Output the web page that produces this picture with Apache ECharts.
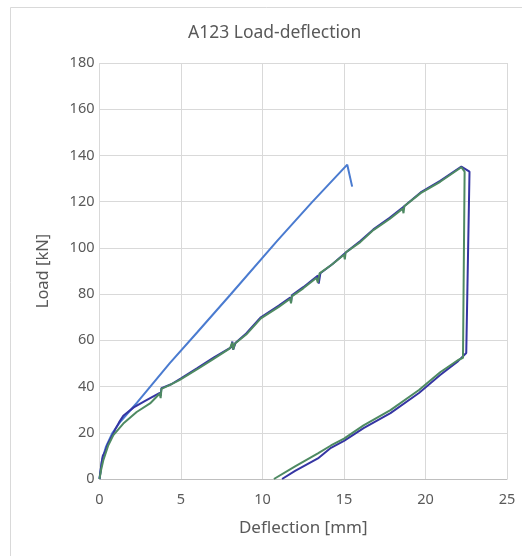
<!DOCTYPE html>
<html>
<head>
<meta charset="utf-8">
<script src="https://cdn.jsdelivr.net/npm/echarts@6/dist/echarts.min.js"></script>
<style>
  html, body { margin: 0; padding: 0; background: #fff; }
  #chart { width: 522px; height: 556px; }
</style>
</head>
<body>
<div id="chart"></div>
<script>
// deflection [mm], load [kN]
var xTicks = [0, 5, 10, 15, 20, 25];
var yTicks = [0, 20, 40, 60, 80, 100, 120, 140, 160, 180];

var lightBlue = [
    [0, 0], [0.15, 8], [0.4, 14], [0.8, 20], [1.3, 25], [1.8, 29], [2.3, 33],
    [4.3, 50], [6, 63.5], [8, 79.5], [10.9, 103], [13, 119.5], [15.2, 136], [15.5, 126.5]
];

var darkBlue = [
    [0, 0], [0.13, 7], [0.2, 10], [0.34, 11.8], [0.5, 15], [0.8, 19], [1, 22], [1.2, 24.5],
    [1.46, 27.4], [2.1, 31], [2.8, 33.8], [3.7, 37.3], [3.75, 36], [3.8, 39.3], [4.4, 41],
    [5, 43.6], [6, 48], [7, 52.5], [8.07, 57], [8.15, 59.5], [8.2, 56], [8.35, 59], [9, 63],
    [9.9, 70], [11, 75], [11.7, 78.5], [11.75, 76.5], [11.8, 79.5], [12.5, 83], [13.4, 88],
    [13.45, 84.5], [13.55, 89], [14.3, 93], [15.2, 98.5], [16, 103], [16.8, 108], [17.8, 113],
    [18.6, 117.5], [19.7, 124], [20.9, 129], [22.2, 135.2], [22.7, 133], [22.5, 54.5],
    [22, 51], [20.9, 45], [19.6, 37.2], [17.85, 28.5], [16.2, 22], [15, 16.5], [14.2, 13.5],
    [13.4, 8.9], [12, 3.5], [11.2, 0]
];

var green = [
    [0, 0], [0.1, 4], [0.23, 8], [0.54, 14.6], [0.85, 19], [1.46, 24], [2.28, 29], [3.1, 32.7],
    [3.7, 37], [3.75, 35], [3.8, 39], [4.3, 40.6], [4.9, 42.8], [6, 47.5], [7, 52], [8, 56.5],
    [8.15, 59], [8.2, 56], [8.3, 58.5], [9, 62.5], [9.9, 69.5], [11, 74.5], [11.7, 78],
    [11.75, 76], [11.8, 79], [12.5, 82.5], [13.3, 87], [13.4, 85], [13.5, 89], [14.2, 92.5],
    [15, 97], [15.05, 95], [15.1, 98], [16, 102.5], [16.8, 107.7], [17.8, 112.5], [18.6, 117],
    [18.65, 115], [18.7, 118], [19.7, 123.7], [20.9, 128.6], [22.2, 134.9], [22.4, 133],
    [22.3, 52.4], [22, 51.5], [20.9, 46.2], [19.6, 38.5], [17.85, 29.8], [16.2, 23.2],
    [15, 17.5], [14.2, 14.5], [13.4, 11.1], [12, 5.5], [10.7, 0]
];

var chart = echarts.init(document.getElementById('chart'));
var font = 'Noto Sans';
var textColor = '#595959';

function lineSeries(name, data, color) {
    return {
        name: name,
        type: 'line',
        data: data,
        showSymbol: false,
        symbol: 'none',
        animation: false,
        lineStyle: { color: color, width: 2 }
    };
}

var option = {
    backgroundColor: '#fff',
    title: {
        text: 'A123 Load-deflection',
        left: 183,
        top: 19,
        textStyle: { fontFamily: font, fontSize: 17.5, fontWeight: 'normal', color: textColor }
    },
    graphic: [{
        type: 'rect',
        shape: { x: 10.5, y: 7.5, width: 600, height: 600 },
        style: { fill: 'none', stroke: '#d9d9d9', lineWidth: 1 },
        silent: true
    }],
    grid: { left: 99.5, right: 15, top: 63, bottom: 77 },
    xAxis: {
        type: 'value',
        min: xTicks[0],
        max: xTicks[xTicks.length - 1],
        interval: 5,
        name: 'Deflection [mm]',
        nameLocation: 'middle',
        nameGap: 41,
        nameTextStyle: { fontFamily: font, fontSize: 17, color: textColor },
        axisLine: { lineStyle: { color: '#bfbfbf' } },
        axisTick: { show: false },
        axisLabel: { fontFamily: font, fontSize: 14.5, color: textColor, margin: 13 },
        splitLine: { show: true, lineStyle: { color: '#d9d9d9' } }
    },
    yAxis: {
        type: 'value',
        min: yTicks[0],
        max: yTicks[yTicks.length - 1],
        interval: 20,
        name: 'Load [kN]',
        nameLocation: 'middle',
        nameGap: 48,
        nameRotate: 90,
        nameTextStyle: { fontFamily: font, fontSize: 16.5, color: textColor },
        axisLine: { show: false },
        axisTick: { show: false },
        axisLabel: { fontFamily: font, fontSize: 14.5, color: textColor, margin: 5 },
        splitLine: { show: true, lineStyle: { color: '#d9d9d9' } }
    },
    series: [
        lineSeries('light', lightBlue, '#4a7bd0'),
        lineSeries('dark', darkBlue, '#3535a3'),
        lineSeries('green', green, '#4e8a62')
    ]
};

chart.setOption(option);
</script>
</body>
</html>
